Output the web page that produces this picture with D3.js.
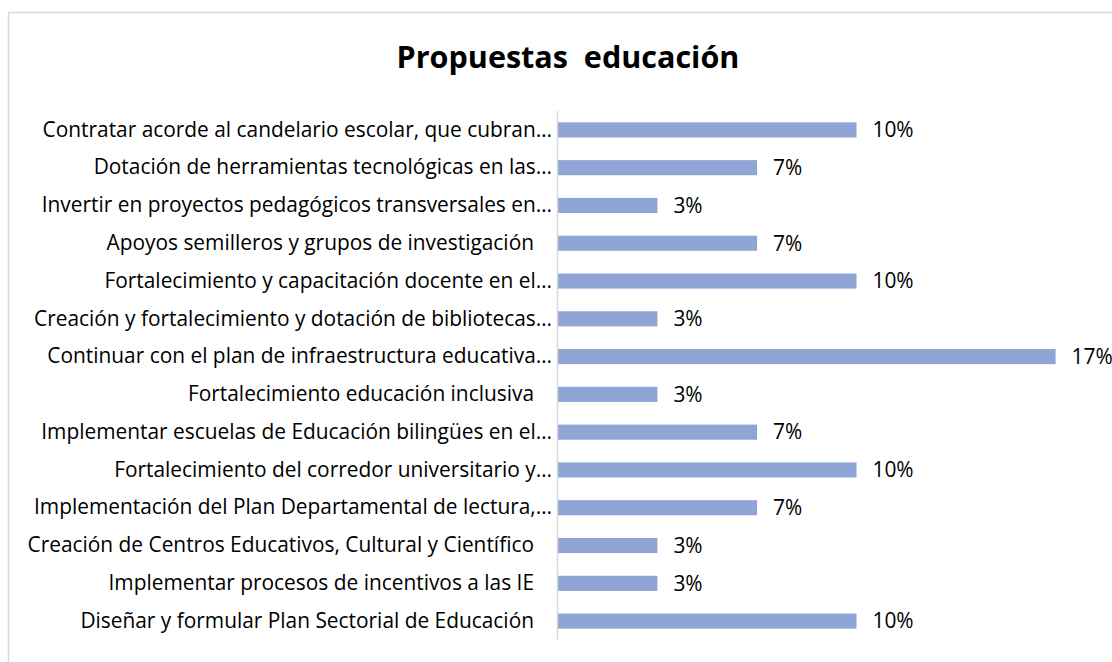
<!DOCTYPE html>
<html>
<head>
<meta charset="utf-8">
<script src="https://cdn.jsdelivr.net/npm/d3@7"></script>
<style>
  html, body { margin: 0; padding: 0; background: #fff; }
  svg { display: block; }
</style>
</head>
<body>
<svg id="chart" width="1112" height="662"></svg>
<script>
// Proposals for education: share of the 30 proposals gathered
const categories = [
  "Contratar acorde al candelario escolar, que cubran…",
  "Dotación de herramientas tecnológicas en las…",
  "Invertir en proyectos pedagógicos transversales en…",
  "Apoyos semilleros y grupos de investigación",
  "Fortalecimiento y capacitación docente en el…",
  "Creación y fortalecimiento y dotación de bibliotecas…",
  "Continuar con el plan de infraestructura educativa…",
  "Fortalecimiento educación inclusiva",
  "Implementar escuelas de Educación bilingües en el…",
  "Fortalecimiento del corredor universitario y…",
  "Implementación del Plan Departamental de lectura,…",
  "Creación de Centros Educativos, Cultural y Científico",
  "Implementar procesos de incentivos a las IE",
  "Diseñar y formular Plan Sectorial de Educación"
];
const shares = [0.1, 0.0667, 0.0333, 0.0667, 0.1, 0.0333, 0.1667, 0.0333, 0.0667, 0.1, 0.0667, 0.0333, 0.0333, 0.1];
const titleText = "Propuestas  educación";

const svg = d3.select("#chart");
const font = "'Open Sans', 'Noto Sans', sans-serif";

// outer chart frame (runs off the right and bottom edges)
svg.append("rect")
  .attr("x", 8.5).attr("y", 12.5)
  .attr("width", 1200).attr("height", 700)
  .attr("fill", "#fff").attr("stroke", "#d9d9d9").attr("stroke-width", 1.5);

// size a text so that it spans the given width
function fitSize(sel, base, width) {
  sel.attr("font-size", base);
  const w = sel.node().getComputedTextLength();
  return base * width / w;
}

const title = svg.append("text")
  .attr("x", 568).attr("y", 68)
  .attr("text-anchor", "middle")
  .style("white-space", "pre")
  .attr("font-family", font).attr("font-weight", 700)
  .attr("fill", "#000")
  .text(titleText);
title.attr("font-size", fitSize(title, 28, 343));

const x0 = 558;
const x = d3.scaleLinear().domain([0, 0.1]).range([x0, x0 + 298.5]);
const y = d3.scaleBand().domain(categories).range([111, 640]).paddingInner(0.6).paddingOuter(0.3);

const rows = categories.map((c, i) => ({ c, v: shares[i] }));

svg.append("g").selectAll("rect").data(rows).join("rect")
  .attr("x", x(0))
  .attr("y", d => y(d.c))
  .attr("width", d => x(d.v) - x(0))
  .attr("height", y.bandwidth())
  .attr("fill", "#8fa5d6");

// category axis: a plain line with labels, no ticks
const yAxis = svg.append("g")
  .attr("transform", `translate(${x0 - 0.5},0)`)
  .call(d3.axisLeft(y).tickSize(0).tickPadding(5));
yAxis.select(".domain").attr("stroke", "#d9d9d9").attr("stroke-width", 1.5).attr("d", "M0,111V640");

const probe = svg.append("text").attr("font-family", font).text(categories[0]);
const labelSize = fitSize(probe, 18, 510);
probe.remove();

yAxis.selectAll(".tick text")
  .attr("font-family", font).attr("font-size", labelSize).attr("fill", "#000")
  .attr("x", d => d.endsWith("…") ? -5.5 : -23.5);

const fmt = d3.format(".0%");
svg.append("g").selectAll("text").data(rows).join("text")
  .attr("x", d => x(d.v) + 16)
  .attr("y", d => y(d.c) + y.bandwidth() / 2)
  .attr("dy", "0.35em")
  .attr("font-family", font).attr("font-size", labelSize).attr("fill", "#000")
  .text(d => fmt(d.v));
</script>
</body>
</html>
